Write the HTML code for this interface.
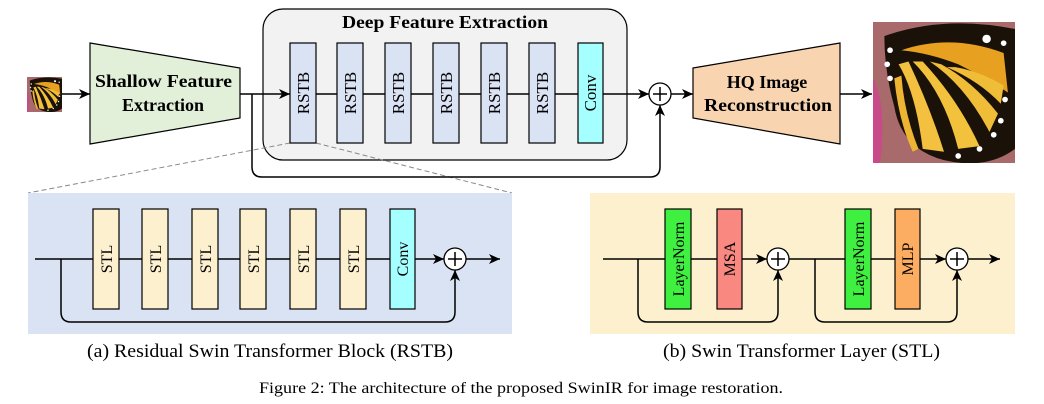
<!DOCTYPE html>
<html><head><meta charset="utf-8"><style>
html,body{margin:0;padding:0;background:#fff;}
svg{display:block;}
text{font-family:"Liberation Serif",serif;}
</style></head><body>
<svg width="1044" height="404" viewBox="0 0 1044 404" xmlns="http://www.w3.org/2000/svg">
<defs>
<marker id="ah" markerWidth="12" markerHeight="10" refX="11" refY="5" orient="auto" markerUnits="userSpaceOnUse">
<path d="M0,0 L11,5 L0,10 L3,5 Z" fill="#000"/>
</marker>
<symbol id="bf" viewBox="0 0 100 100" preserveAspectRatio="none">
<rect width="100" height="100" fill="#a86a6a"/>
<path d="M0,40 Q10,60 5,100 L0,100Z" fill="#c84a88"/>
<path d="M8,10 Q50,-5 100,5 L100,90 Q80,105 50,98 Q20,90 15,60 Q8,35 8,10Z" fill="#1a1208"/>
<path d="M20,20 Q55,8 92,22 L95,50 Q80,40 60,30 Q40,22 20,20Z" fill="#e8a020"/>
<path d="M18,30 Q30,50 35,90 L50,92 Q40,60 25,28Z" fill="#f4c040"/>
<path d="M28,28 Q50,50 60,90 L75,88 Q60,55 35,28Z" fill="#f2c23c"/>
<path d="M40,28 Q65,45 82,78 L88,65 Q70,42 48,30Z" fill="#f0bd38"/>
<path d="M52,32 Q75,42 90,58 L92,45 Q75,35 58,32Z" fill="#f0bd38"/>
<path d="M15,40 Q18,70 28,92 L32,90 Q22,65 20,38Z" fill="#eeb535"/>
<g fill="#fff"><circle cx="12" cy="20" r="2"/><circle cx="10" cy="30" r="2"/><circle cx="12" cy="40" r="2"/><circle cx="90" cy="70" r="2"/><circle cx="85" cy="80" r="2"/><circle cx="75" cy="90" r="2"/><circle cx="60" cy="95" r="2"/><circle cx="93" cy="55" r="2"/><circle cx="80" cy="12" r="3"/><circle cx="92" cy="15" r="2"/></g>
</symbol>
</defs>

<use href="#bf" x="27" y="77" width="35" height="35"/>
<line x1="62" y1="94" x2="90" y2="94" stroke="#000" stroke-width="1.5" marker-end="url(#ah)"/>

<polygon points="90,43 240,68 240,118 90,144" fill="#e2efd9" stroke="#000" stroke-width="1.2"/>
<text x="95" y="87" font-size="18" font-weight="bold" textLength="137" lengthAdjust="spacingAndGlyphs">Shallow Feature</text>
<text x="163" y="111" font-size="18" font-weight="bold" text-anchor="middle">Extraction</text>

<rect x="263" y="9" width="364" height="151" rx="20" fill="#f2f2f2" stroke="#000" stroke-width="1.2"/>
<text x="342" y="28" font-size="18" font-weight="bold" textLength="206" lengthAdjust="spacingAndGlyphs">Deep Feature Extraction</text>

<line x1="290" y1="143" x2="28" y2="193" stroke="#888" stroke-width="1" stroke-dasharray="5,3"/>
<line x1="316" y1="143" x2="512" y2="193" stroke="#888" stroke-width="1" stroke-dasharray="5,3"/>

<line x1="240" y1="94" x2="290" y2="94" stroke="#000" stroke-width="1.5" marker-end="url(#ah)"/>
<line x1="316" y1="94" x2="578" y2="94" stroke="#000" stroke-width="1.5"/>
<line x1="603" y1="94" x2="649" y2="94" stroke="#000" stroke-width="1.5" marker-end="url(#ah)"/>
<path d="M252,94 L252,167 Q252,177 262,177 L650,177 Q660,177 660,167 L660,105" fill="none" stroke="#000" stroke-width="1.5" marker-end="url(#ah)"/>

<g stroke="#000" stroke-width="1.2" fill="#dae3f3">
<rect x="290" y="43" width="26" height="100"/>
<rect x="337" y="43" width="26" height="100"/>
<rect x="385" y="43" width="26" height="100"/>
<rect x="433" y="43" width="26" height="100"/>
<rect x="481" y="43" width="26" height="100"/>
<rect x="529" y="43" width="26" height="100"/>
<rect x="578" y="43" width="25" height="100" fill="#a6ffff"/>
</g>
<g font-size="17" text-anchor="middle">
<text transform="translate(309,93) rotate(-90)">RSTB</text>
<text transform="translate(356,93) rotate(-90)">RSTB</text>
<text transform="translate(404,93) rotate(-90)">RSTB</text>
<text transform="translate(452,93) rotate(-90)">RSTB</text>
<text transform="translate(500,93) rotate(-90)">RSTB</text>
<text transform="translate(548,93) rotate(-90)">RSTB</text>
<text transform="translate(596,93) rotate(-90)">Conv</text>
</g>

<circle cx="660" cy="94" r="11" fill="#fff" stroke="#000" stroke-width="1.3"/>
<path d="M653,94 H667 M660,87 V101" stroke="#000" stroke-width="1.5"/>
<line x1="671" y1="94" x2="693" y2="94" stroke="#000" stroke-width="1.5" marker-end="url(#ah)"/>

<polygon points="693,68 840,43 840,144 693,118" fill="#f8d5b0" stroke="#000" stroke-width="1.2"/>
<text x="767" y="88" font-size="18" font-weight="bold" text-anchor="middle">HQ Image</text>
<text x="704" y="111" font-size="18" font-weight="bold" textLength="128" lengthAdjust="spacingAndGlyphs">Reconstruction</text>
<line x1="840" y1="94" x2="872" y2="94" stroke="#000" stroke-width="1.5" marker-end="url(#ah)"/>
<use href="#bf" x="873" y="22" width="142" height="141"/>

<rect x="28" y="193" width="484" height="141" fill="#dae3f3"/>
<line x1="35" y1="259" x2="444" y2="259" stroke="#000" stroke-width="1.5" marker-end="url(#ah)"/>
<path d="M61,259 L61,312 Q61,322 71,322 L445,322 Q455,322 455,312 L455,270" fill="none" stroke="#000" stroke-width="1.5" marker-end="url(#ah)"/>
<g stroke="#000" stroke-width="1.2" fill="#fdf0cf">
<rect x="93" y="209" width="26" height="100"/>
<rect x="142" y="209" width="26" height="100"/>
<rect x="192" y="209" width="26" height="100"/>
<rect x="240" y="209" width="26" height="100"/>
<rect x="290" y="209" width="26" height="100"/>
<rect x="340" y="209" width="26" height="100"/>
<rect x="390" y="209" width="25" height="100" fill="#a6ffff"/>
</g>
<g font-size="16" text-anchor="middle">
<text transform="translate(112,259) rotate(-90)">STL</text>
<text transform="translate(161,259) rotate(-90)">STL</text>
<text transform="translate(211,259) rotate(-90)">STL</text>
<text transform="translate(259,259) rotate(-90)">STL</text>
<text transform="translate(309,259) rotate(-90)">STL</text>
<text transform="translate(359,259) rotate(-90)">STL</text>
<text transform="translate(408,259) rotate(-90)">Conv</text>
</g>
<circle cx="455" cy="259" r="11" fill="#fff" stroke="#000" stroke-width="1.3"/>
<path d="M448,259 H462 M455,252 V266" stroke="#000" stroke-width="1.5"/>
<line x1="466" y1="259" x2="500" y2="259" stroke="#000" stroke-width="1.5" marker-end="url(#ah)"/>

<rect x="590" y="193" width="425" height="141" fill="#fdf0cf"/>
<line x1="603" y1="259" x2="767" y2="259" stroke="#000" stroke-width="1.5" marker-end="url(#ah)"/>
<line x1="789" y1="259" x2="946" y2="259" stroke="#000" stroke-width="1.5" marker-end="url(#ah)"/>
<line x1="968" y1="259" x2="1000" y2="259" stroke="#000" stroke-width="1.5" marker-end="url(#ah)"/>
<path d="M638,259 L638,312 Q638,322 648,322 L768,322 Q778,322 778,312 L778,270" fill="none" stroke="#000" stroke-width="1.5" marker-end="url(#ah)"/>
<path d="M815,259 L815,312 Q815,322 825,322 L947,322 Q957,322 957,312 L957,270" fill="none" stroke="#000" stroke-width="1.5" marker-end="url(#ah)"/>
<g stroke="#000" stroke-width="1.2">
<rect x="665" y="209" width="26" height="100" fill="#40f040"/>
<rect x="717" y="209" width="25" height="100" fill="#f88880"/>
<rect x="845" y="209" width="26" height="100" fill="#40f040"/>
<rect x="895" y="209" width="25" height="100" fill="#fdad62"/>
</g>
<g font-size="16" text-anchor="middle">
<text transform="translate(684,259) rotate(-90)">LayerNorm</text>
<text transform="translate(735,259) rotate(-90)">MSA</text>
<text transform="translate(864,259) rotate(-90)">LayerNorm</text>
<text transform="translate(913,259) rotate(-90)">MLP</text>
</g>
<circle cx="778" cy="259" r="11" fill="#fff" stroke="#000" stroke-width="1.3"/>
<path d="M771,259 H785 M778,252 V266" stroke="#000" stroke-width="1.5"/>
<circle cx="957" cy="259" r="11" fill="#fff" stroke="#000" stroke-width="1.3"/>
<path d="M950,259 H964 M957,252 V266" stroke="#000" stroke-width="1.5"/>

<text x="87" y="357" font-size="19" textLength="366" lengthAdjust="spacingAndGlyphs">(a) Residual Swin Transformer Block (RSTB)</text>
<text x="663" y="357" font-size="19" textLength="277" lengthAdjust="spacingAndGlyphs">(b) Swin Transformer Layer (STL)</text>
<text x="259" y="393" font-size="16" textLength="524" lengthAdjust="spacingAndGlyphs">Figure 2: The architecture of the proposed SwinIR for image restoration.</text>
</svg>
</body></html>
